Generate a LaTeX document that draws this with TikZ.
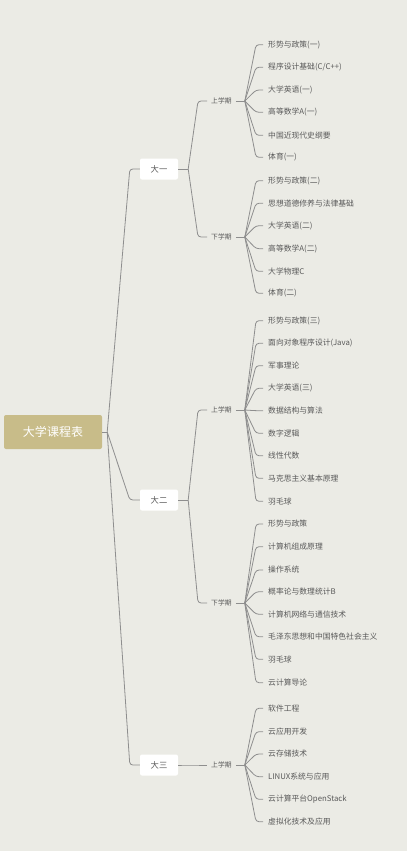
\documentclass[tikz,border=0pt]{standalone}
\usepackage{fontspec}
\setmainfont{Noto Sans CJK SC}
\definecolor{bg}{HTML}{EBEBE5}
\definecolor{gold}{HTML}{C8BC89}
\definecolor{linegray}{HTML}{8E8E8E}
\definecolor{txt}{HTML}{595959}
\tikzstyle{root} = [rectangle, rounded corners=2pt, minimum width=98pt, minimum height=34pt, text centered, fill=gold, text=white, font=\fontsize{12}{14}\selectfont]
\tikzstyle{year} = [rectangle, rounded corners=2pt, minimum width=38pt, minimum height=21pt, text centered, fill=white, text=txt, font=\fontsize{8.3}{10}\selectfont]
\tikzstyle{term} = [anchor=west, inner xsep=4pt, inner ysep=2pt, text=txt, font=\fontsize{6.8}{8}\selectfont]
\tikzstyle{course} = [anchor=west, inner xsep=5pt, inner ysep=2pt, text=txt, font=\fontsize{7.8}{9}\selectfont]
\tikzstyle{link} = [draw=linegray, line width=0.8pt, rounded corners=3pt]

\begin{document}
\begin{tikzpicture}[x=1pt, y=-1pt]
\fill[bg] (0,0) rectangle (407,851);
\useasboundingbox (0,0) rectangle (407,851);
%根节点与年级
\node (root) [root] at (53,432) {大学课程表};
\node (y1) [year] at (159,169) {大一};
\node (y2) [year] at (159,500) {大二};
\node (y3) [year] at (159,765) {大三};
%学期
\node (s11) [term] at (207,101) {上学期};
\node (s12) [term] at (207,237) {下学期};
\node (s21) [term] at (207,410) {上学期};
\node (s22) [term] at (207,603) {下学期};
\node (s31) [term] at (207,765) {上学期};
%大一上学期
\node (c111) [course] at (263,44.7) {形势与政策(一)};
\node (c112) [course] at (263,67.3) {程序设计基础(C/C++)};
\node (c113) [course] at (263,90) {大学英语(一)};
\node (c114) [course] at (263,112.3) {高等数学A(一)};
\node (c115) [course] at (263,135.3) {中国近现代史纲要};
\node (c116) [course] at (263,157.3) {体育(一)};
%大一下学期
\node (c121) [course] at (263,180.7) {形势与政策(二)};
\node (c122) [course] at (263,203.3) {思想道德修养与法律基础};
\node (c123) [course] at (263,225.7) {大学英语(二)};
\node (c124) [course] at (263,248.7) {高等数学A(二)};
\node (c125) [course] at (263,271.3) {大学物理C};
\node (c126) [course] at (263,293.3) {体育(二)};
%大二上学期
\node (c211) [course] at (263,320.7) {形势与政策(三)};
\node (c212) [course] at (263,343.3) {面向对象程序设计(Java)};
\node (c213) [course] at (263,365.7) {军事理论};
\node (c214) [course] at (263,388.3) {大学英语(三)};
\node (c215) [course] at (263,410.7) {数据结构与算法};
\node (c216) [course] at (263,433.3) {数字逻辑};
\node (c217) [course] at (263,455.7) {线性代数};
\node (c218) [course] at (263,478.3) {马克思主义基本原理};
\node (c219) [course] at (263,501.3) {羽毛球};
%大二下学期
\node (c221) [course] at (263,524) {形势与政策};
\node (c222) [course] at (263,546.7) {计算机组成原理};
\node (c223) [course] at (263,570) {操作系统};
\node (c224) [course] at (263,591.7) {概率论与数理统计B};
\node (c225) [course] at (263,614.3) {计算机网络与通信技术};
\node (c226) [course] at (263,636.7) {毛泽东思想和中国特色社会主义};
\node (c227) [course] at (263,659.3) {羽毛球};
\node (c228) [course] at (263,682.7) {云计算导论};
%大三上学期
\node (c311) [course] at (263,708.3) {软件工程};
\node (c312) [course] at (263,731.7) {云应用开发};
\node (c313) [course] at (263,754) {云存储技术};
\node (c314) [course] at (263,776.7) {LINUX系统与应用};
\node (c315) [course] at (263,799.3) {云计算平台OpenStack};
\node (c316) [course] at (263,821.7) {虚拟化技术及应用};

%分支点
\coordinate (h0) at ([xshift=5pt]root.east);
\coordinate (h1) at ([xshift=10pt]y1.east);
\coordinate (h2) at ([xshift=10pt]y2.east);
\coordinate (h3) at ([xshift=10pt]y3.east);
\coordinate (h11) at ([xshift=9pt]s11.east);
\coordinate (h12) at ([xshift=9pt]s12.east);
\coordinate (h21) at ([xshift=9pt]s21.east);
\coordinate (h22) at ([xshift=9pt]s22.east);
\coordinate (h31) at ([xshift=9pt]s31.east);

%连接根节点与年级
\draw [link](root.east) -- (h0);
\draw [link](h0) -- ([xshift=-10pt]y1.west) -- (y1.west);
\draw [link](h0) -- ([xshift=-10pt]y2.west) -- (y2.west);
\draw [link](h0) -- ([xshift=-10pt]y3.west) -- (y3.west);
%连接年级与学期
\draw [link](y1.east) -- (h1);
\draw [link](h1) -- ([xshift=-9pt]s11.west) -- (s11.west);
\draw [link](h1) -- ([xshift=-9pt]s12.west) -- (s12.west);
\draw [link](y2.east) -- (h2);
\draw [link](h2) -- ([xshift=-9pt]s21.west) -- (s21.west);
\draw [link](h2) -- ([xshift=-9pt]s22.west) -- (s22.west);
\draw [link](y3.east) -- (h3) -- (s31.west);
%连接学期与课程
\draw [link](s11.east) -- (h11);
\draw [link](h11) -- ([xshift=-7pt]c111.west) -- (c111.west);
\draw [link](h11) -- ([xshift=-7pt]c112.west) -- (c112.west);
\draw [link](h11) -- ([xshift=-7pt]c113.west) -- (c113.west);
\draw [link](h11) -- ([xshift=-7pt]c114.west) -- (c114.west);
\draw [link](h11) -- ([xshift=-7pt]c115.west) -- (c115.west);
\draw [link](h11) -- ([xshift=-7pt]c116.west) -- (c116.west);
\draw [link](s12.east) -- (h12);
\draw [link](h12) -- ([xshift=-7pt]c121.west) -- (c121.west);
\draw [link](h12) -- ([xshift=-7pt]c122.west) -- (c122.west);
\draw [link](h12) -- ([xshift=-7pt]c123.west) -- (c123.west);
\draw [link](h12) -- ([xshift=-7pt]c124.west) -- (c124.west);
\draw [link](h12) -- ([xshift=-7pt]c125.west) -- (c125.west);
\draw [link](h12) -- ([xshift=-7pt]c126.west) -- (c126.west);
\draw [link](s21.east) -- (h21);
\draw [link](h21) -- ([xshift=-7pt]c211.west) -- (c211.west);
\draw [link](h21) -- ([xshift=-7pt]c212.west) -- (c212.west);
\draw [link](h21) -- ([xshift=-7pt]c213.west) -- (c213.west);
\draw [link](h21) -- ([xshift=-7pt]c214.west) -- (c214.west);
\draw [link](h21) -- ([xshift=-7pt]c215.west) -- (c215.west);
\draw [link](h21) -- ([xshift=-7pt]c216.west) -- (c216.west);
\draw [link](h21) -- ([xshift=-7pt]c217.west) -- (c217.west);
\draw [link](h21) -- ([xshift=-7pt]c218.west) -- (c218.west);
\draw [link](h21) -- ([xshift=-7pt]c219.west) -- (c219.west);
\draw [link](s22.east) -- (h22);
\draw [link](h22) -- ([xshift=-7pt]c221.west) -- (c221.west);
\draw [link](h22) -- ([xshift=-7pt]c222.west) -- (c222.west);
\draw [link](h22) -- ([xshift=-7pt]c223.west) -- (c223.west);
\draw [link](h22) -- ([xshift=-7pt]c224.west) -- (c224.west);
\draw [link](h22) -- ([xshift=-7pt]c225.west) -- (c225.west);
\draw [link](h22) -- ([xshift=-7pt]c226.west) -- (c226.west);
\draw [link](h22) -- ([xshift=-7pt]c227.west) -- (c227.west);
\draw [link](h22) -- ([xshift=-7pt]c228.west) -- (c228.west);
\draw [link](s31.east) -- (h31);
\draw [link](h31) -- ([xshift=-7pt]c311.west) -- (c311.west);
\draw [link](h31) -- ([xshift=-7pt]c312.west) -- (c312.west);
\draw [link](h31) -- ([xshift=-7pt]c313.west) -- (c313.west);
\draw [link](h31) -- ([xshift=-7pt]c314.west) -- (c314.west);
\draw [link](h31) -- ([xshift=-7pt]c315.west) -- (c315.west);
\draw [link](h31) -- ([xshift=-7pt]c316.west) -- (c316.west);
\end{tikzpicture}
\end{document}
